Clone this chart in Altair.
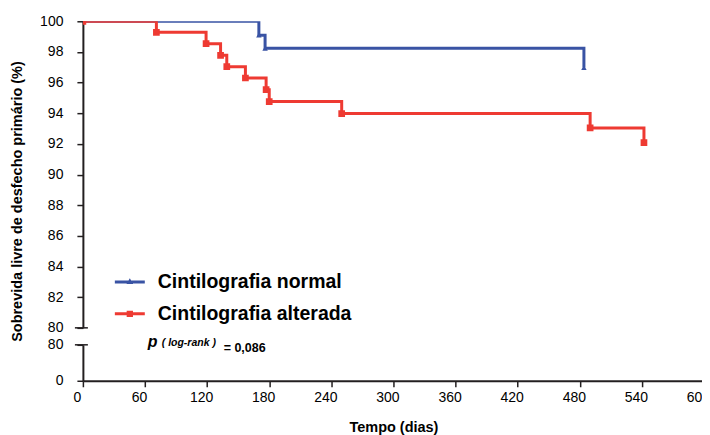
import altair as alt
import pandas as pd

BLUE = "#3953a4"
RED = "#ee3a32"
AXIS = "#231f20"
FONT = "Liberation Sans"

SERIES = ["Cintilografia normal", "Cintilografia alterada"]

normal_days = [0, 170, 176, 484]
normal_surv = [100, 99.09, 98.24, 96.98]

alterada_days = [0, 71, 119, 133, 139, 157, 177, 180, 250, 490, 542]
alterada_surv = [100, 99.28, 98.54, 97.78, 97.04, 96.30, 95.54, 94.76, 93.98, 93.04, 92.09]

x_ticks = list(range(0, 601, 60))
upper_ticks = list(range(80, 101, 2))
lower_ticks = [0, 80]

y_title = "Sobrevida livre de desfecho primário (%)"
x_title = "Tempo (dias)"
p_label = "p"
p_method = "( log-rank )"
p_value = "= 0,086"

df_n = pd.DataFrame({"t": normal_days, "s": normal_surv})
df_a = pd.DataFrame({"t": alterada_days, "s": alterada_surv})
df_leg = pd.DataFrame({"serie": SERIES})
one = pd.DataFrame({"k": [0]})

LEG_N = "M-1,-0.1H1V0.1H-1Z M-0.22,0.14L0,-0.24L0.22,0.14Z"
LEG_A = "M-1,-0.1H1V0.1H-1Z M-0.21,-0.21H0.21V0.21H-0.21Z"


def series_layers(ydomain, xaxis, yaxis):
    x = alt.X("t:Q", scale=alt.Scale(domain=[0, 600], nice=False, zero=False), axis=xaxis)
    y = alt.Y("s:Q", scale=alt.Scale(domain=ydomain, nice=False, zero=False), axis=yaxis)
    line_n = alt.Chart(df_n).mark_line(interpolate="step-after", color=BLUE, strokeWidth=3, clip=True).encode(x=x, y=y)
    pts_n = alt.Chart(df_n).mark_point(shape="triangle-up", filled=True, color=BLUE, size=30, opacity=1, clip=True).encode(x=x, y=y)
    line_a = alt.Chart(df_a).mark_line(interpolate="step-after", color=RED, strokeWidth=3, clip=True).encode(x=x, y=y)
    pts_a = alt.Chart(df_a).mark_point(shape="square", filled=True, color=RED, size=45, opacity=1, clip=True).encode(x=x, y=y)
    return [line_n, pts_n, line_a, pts_a]


yaxis_up = alt.Axis(values=upper_ticks, title=y_title, titleFontWeight="bold", titleFontSize=14.5,
                    titlePadding=15, titleY=180, labelPadding=14, labelFlush=False, grid=False)
yaxis_low = alt.Axis(values=lower_ticks, title=None, labelPadding=14, labelFlush=False, grid=False)
xaxis_low = alt.Axis(values=x_ticks, title=x_title, titleFontWeight="bold", titleFontSize=14.5,
                     titlePadding=16, labelPadding=4, labelOffset=-6, labelFlush=False, grid=False)

leg = alt.Legend(title=None, orient="none", legendX=32, legendY=246, symbolSize=900, symbolOpacity=1,
                 symbolStrokeWidth=0, labelFont=FONT, labelFontSize=19.5, labelFontWeight="bold",
                 labelColor="black", labelOffset=13, rowPadding=7, padding=0, labelLimit=400)

dummy = alt.Chart(df_leg).mark_point(filled=True, opacity=0).encode(
    color=alt.Color("serie:N", scale=alt.Scale(domain=SERIES, range=[BLUE, RED]), legend=leg),
    shape=alt.Shape("serie:N", scale=alt.Scale(domain=SERIES, range=[LEG_N, LEG_A]), legend=leg),
)

brk_up = alt.Chart(one).mark_rule(color=AXIS, strokeWidth=1.5).encode(
    x=alt.value(-8), x2=alt.value(5), y=alt.value(307))
brk_low = alt.Chart(one).mark_rule(color=AXIS, strokeWidth=1.5).encode(
    x=alt.value(-8), x2=alt.value(5), y=alt.value(0))

upper = alt.layer(*series_layers([80, 100], None, yaxis_up), brk_up, dummy).properties(width=622, height=307)

txt_p = alt.Chart(one).mark_text(text=p_label, font=FONT, fontSize=16, fontWeight="bold", fontStyle="italic",
                                 align="left", baseline="alphabetic", color="black").encode(
    x=alt.value(65), y=alt.value(2))
txt_m = alt.Chart(one).mark_text(text=p_method, font=FONT, fontSize=10.5, fontWeight="bold", fontStyle="italic",
                                 align="left", baseline="alphabetic", color="black").encode(
    x=alt.value(79), y=alt.value(1))
txt_v = alt.Chart(one).mark_text(text=p_value, font=FONT, fontSize=12.5, fontWeight="bold",
                                 align="left", baseline="alphabetic", color="black").encode(
    x=alt.value(141), y=alt.value(7))

lower = alt.layer(*series_layers([0, 80], xaxis_low, yaxis_low), brk_low, txt_p, txt_m, txt_v).properties(
    width=622, height=36)

chart = alt.vconcat(upper, lower, spacing=17, bounds="flush").properties(
    padding={"left": 1, "top": 6, "right": -8, "bottom": 0}
).configure_view(stroke=None).configure_axis(
    labelFont=FONT, titleFont=FONT, labelFontSize=14, labelColor="black", titleColor="black",
    domainColor=AXIS, tickColor=AXIS, domainWidth=2, tickWidth=1.5, tickSize=6, grid=False
)

chart.save("out.html", embed_options={"renderer": "svg", "actions": False})
